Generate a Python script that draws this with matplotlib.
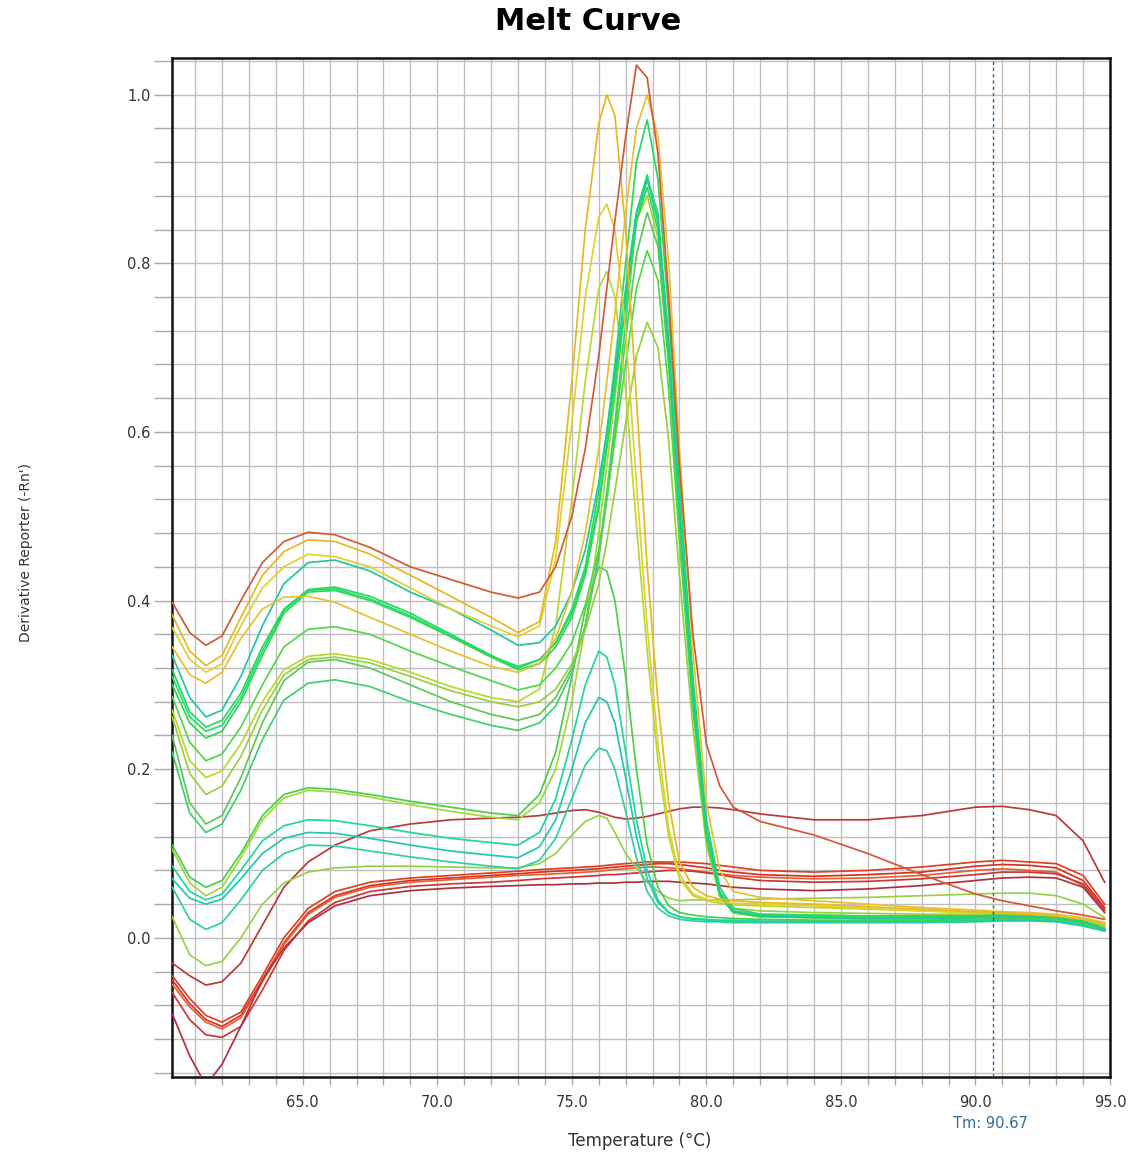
import matplotlib
matplotlib.use("Agg")
import matplotlib.pyplot as plt
from matplotlib.ticker import MultipleLocator, FormatStrFormatter

# ---------------- data ----------------
temps = [60.15, 60.8, 61.4, 62.0, 62.7, 63.5, 64.3, 65.2, 66.2, 67.5, 69.0, 70.5, 72.0, 73.0,
         73.8, 74.4, 75.0, 75.5, 76.0, 76.3, 76.6, 77.0, 77.4, 77.8, 78.2, 78.6, 79.0, 79.5,
         80.0, 80.5, 81.0, 82.0, 84.0, 86.0, 88.0, 90.0, 91.0, 92.0, 93.0, 94.0, 94.8]

# red group (low curves)
r1 = [-0.03, -0.045, -0.056, -0.052, -0.03, 0.015, 0.06, 0.09, 0.11, 0.127, 0.135, 0.14, 0.142, 0.143,
      0.145, 0.148, 0.151, 0.152, 0.149, 0.146, 0.143, 0.141, 0.142, 0.144, 0.147, 0.15, 0.153, 0.155,
      0.155, 0.154, 0.152, 0.147, 0.14, 0.14, 0.145, 0.155, 0.156, 0.152, 0.145, 0.115, 0.066]
r2 = [-0.045, -0.072, -0.092, -0.10, -0.088, -0.045, 0.0, 0.035, 0.055, 0.066, 0.071, 0.074, 0.077, 0.079,
      0.081, 0.082, 0.083, 0.084, 0.085, 0.086, 0.087, 0.088, 0.089, 0.09, 0.09, 0.09, 0.09, 0.089,
      0.088, 0.086, 0.084, 0.08, 0.078, 0.08, 0.084, 0.09, 0.092, 0.09, 0.088, 0.074, 0.04]
r3 = [-0.05, -0.078, -0.097, -0.105, -0.092, -0.05, -0.006, 0.03, 0.05, 0.062, 0.068, 0.071, 0.074, 0.076,
      0.078, 0.079, 0.08, 0.081, 0.082, 0.083, 0.084, 0.085, 0.086, 0.087, 0.088, 0.088, 0.087, 0.085,
      0.083, 0.08, 0.078, 0.075, 0.073, 0.075, 0.078, 0.085, 0.087, 0.086, 0.083, 0.068, 0.036]
r4 = [-0.055, -0.082, -0.10, -0.108, -0.095, -0.052, -0.008, 0.028, 0.048, 0.06, 0.066, 0.069, 0.072, 0.074,
      0.075, 0.076, 0.077, 0.078, 0.079, 0.08, 0.081, 0.082, 0.083, 0.084, 0.084, 0.083, 0.082, 0.08,
      0.078, 0.076, 0.074, 0.072, 0.07, 0.071, 0.074, 0.08, 0.082, 0.08, 0.078, 0.062, 0.032]
r5 = [-0.065, -0.097, -0.115, -0.118, -0.105, -0.062, -0.015, 0.02, 0.042, 0.055, 0.061, 0.064, 0.066, 0.068,
      0.07, 0.071, 0.072, 0.073, 0.074, 0.075, 0.075, 0.076, 0.077, 0.078, 0.079, 0.08, 0.08, 0.079,
      0.077, 0.075, 0.072, 0.068, 0.066, 0.067, 0.07, 0.075, 0.078, 0.078, 0.076, 0.064, 0.034]
r6 = [-0.09, -0.14, -0.175, -0.15, -0.105, -0.05, -0.012, 0.018, 0.038, 0.05, 0.056, 0.059, 0.061, 0.062,
      0.063, 0.063, 0.064, 0.064, 0.065, 0.065, 0.065, 0.066, 0.066, 0.067, 0.067, 0.067, 0.066, 0.065,
      0.064, 0.062, 0.06, 0.058, 0.056, 0.058, 0.062, 0.068, 0.071, 0.072, 0.071, 0.06, 0.03]

# high-baseline group
h1 = [0.398, 0.362, 0.347, 0.358, 0.40, 0.445, 0.47, 0.481, 0.478, 0.463, 0.44, 0.425, 0.41, 0.403,
      0.41, 0.44, 0.50, 0.58, 0.69, 0.77, 0.85, 0.95, 1.035, 1.02, 0.93, 0.76, 0.56, 0.36,
      0.23, 0.18, 0.155, 0.138, 0.122, 0.10, 0.075, 0.052, 0.044, 0.038, 0.032, 0.027, 0.022]
h2 = [0.383, 0.34, 0.323, 0.335, 0.38, 0.43, 0.458, 0.472, 0.47, 0.455, 0.43, 0.405, 0.38, 0.362,
      0.375, 0.47, 0.66, 0.84, 0.965, 1.0, 0.975, 0.84, 0.64, 0.44, 0.28, 0.16, 0.09, 0.06,
      0.05, 0.046, 0.044, 0.042, 0.04, 0.037, 0.034, 0.031, 0.03, 0.028, 0.026, 0.022, 0.017]
h3 = [0.368, 0.33, 0.315, 0.325, 0.37, 0.415, 0.44, 0.455, 0.452, 0.44, 0.415, 0.39, 0.37, 0.357,
      0.37, 0.45, 0.61, 0.76, 0.855, 0.87, 0.84, 0.72, 0.54, 0.37, 0.23, 0.13, 0.075, 0.052,
      0.046, 0.043, 0.041, 0.04, 0.038, 0.035, 0.032, 0.03, 0.029, 0.028, 0.026, 0.022, 0.017]
h4 = [0.345, 0.312, 0.302, 0.315, 0.355, 0.39, 0.404, 0.405, 0.398, 0.38, 0.36, 0.34, 0.322, 0.315,
      0.325, 0.355, 0.41, 0.48, 0.58, 0.66, 0.74, 0.86, 0.96, 1.0, 0.95, 0.80, 0.58, 0.34,
      0.16, 0.08, 0.055, 0.048, 0.044, 0.04, 0.036, 0.033, 0.031, 0.03, 0.028, 0.024, 0.018]
t1 = [0.335, 0.285, 0.262, 0.27, 0.31, 0.37, 0.42, 0.445, 0.448, 0.435, 0.41, 0.39, 0.365, 0.347,
      0.35, 0.37, 0.41, 0.46, 0.54, 0.60, 0.67, 0.77, 0.86, 0.90, 0.85, 0.70, 0.51, 0.29,
      0.13, 0.055, 0.032, 0.026, 0.024, 0.023, 0.023, 0.024, 0.025, 0.025, 0.024, 0.019, 0.01]
g1 = [0.318, 0.268, 0.25, 0.258, 0.29, 0.345, 0.39, 0.413, 0.416, 0.405, 0.385, 0.36, 0.335, 0.32,
      0.33, 0.35, 0.39, 0.44, 0.53, 0.60, 0.68, 0.80, 0.92, 0.97, 0.90, 0.74, 0.54, 0.31,
      0.14, 0.06, 0.035, 0.028, 0.027, 0.026, 0.026, 0.026, 0.027, 0.027, 0.026, 0.02, 0.011]
g2 = [0.30, 0.255, 0.237, 0.245, 0.28, 0.335, 0.385, 0.41, 0.412, 0.40, 0.38, 0.357, 0.333, 0.318,
      0.325, 0.345, 0.38, 0.43, 0.51, 0.58, 0.65, 0.75, 0.85, 0.89, 0.84, 0.69, 0.50, 0.28,
      0.12, 0.05, 0.03, 0.026, 0.025, 0.024, 0.024, 0.025, 0.026, 0.026, 0.025, 0.019, 0.01]
g6 = [0.31, 0.262, 0.245, 0.252, 0.285, 0.34, 0.388, 0.412, 0.414, 0.402, 0.382, 0.358, 0.334, 0.322,
      0.33, 0.35, 0.385, 0.435, 0.515, 0.585, 0.66, 0.76, 0.86, 0.905, 0.85, 0.70, 0.51, 0.29,
      0.125, 0.052, 0.031, 0.026, 0.025, 0.024, 0.024, 0.025, 0.026, 0.026, 0.025, 0.019, 0.01]
g3 = [0.286, 0.232, 0.21, 0.218, 0.25, 0.30, 0.345, 0.366, 0.369, 0.36, 0.34, 0.322, 0.305, 0.294,
      0.30, 0.32, 0.35, 0.395, 0.46, 0.52, 0.59, 0.68, 0.77, 0.815, 0.78, 0.65, 0.47, 0.27,
      0.12, 0.05, 0.03, 0.025, 0.024, 0.023, 0.023, 0.024, 0.025, 0.025, 0.024, 0.018, 0.01]
y1 = [0.27, 0.21, 0.19, 0.198, 0.23, 0.28, 0.318, 0.334, 0.337, 0.33, 0.315, 0.298, 0.285, 0.28,
      0.295, 0.37, 0.52, 0.66, 0.77, 0.79, 0.76, 0.65, 0.49, 0.34, 0.21, 0.12, 0.07, 0.05,
      0.044, 0.041, 0.039, 0.038, 0.036, 0.034, 0.032, 0.03, 0.029, 0.028, 0.026, 0.021, 0.016]
y2 = [0.262, 0.195, 0.17, 0.18, 0.215, 0.27, 0.312, 0.33, 0.333, 0.326, 0.31, 0.293, 0.28, 0.274,
      0.28, 0.295, 0.325, 0.365, 0.42, 0.47, 0.53, 0.61, 0.69, 0.73, 0.70, 0.59, 0.43, 0.25,
      0.11, 0.05, 0.035, 0.032, 0.03, 0.029, 0.028, 0.028, 0.028, 0.027, 0.025, 0.02, 0.014]
g4 = [0.24, 0.16, 0.135, 0.145, 0.19, 0.255, 0.305, 0.327, 0.33, 0.32, 0.30, 0.28, 0.265, 0.258,
      0.265, 0.285, 0.32, 0.37, 0.45, 0.52, 0.60, 0.71, 0.81, 0.86, 0.82, 0.68, 0.49, 0.28,
      0.12, 0.05, 0.03, 0.025, 0.024, 0.023, 0.023, 0.024, 0.025, 0.025, 0.024, 0.018, 0.01]
g5 = [0.22, 0.148, 0.125, 0.135, 0.175, 0.235, 0.282, 0.302, 0.306, 0.298, 0.28, 0.265, 0.252, 0.246,
      0.255, 0.275, 0.315, 0.37, 0.455, 0.53, 0.61, 0.73, 0.85, 0.90, 0.86, 0.71, 0.51, 0.29,
      0.125, 0.052, 0.031, 0.026, 0.025, 0.024, 0.024, 0.025, 0.026, 0.026, 0.025, 0.019, 0.01]

# low-baseline group
l1 = [0.11, 0.072, 0.06, 0.068, 0.10, 0.145, 0.17, 0.178, 0.176, 0.17, 0.162, 0.155, 0.148, 0.145,
      0.17, 0.22, 0.31, 0.39, 0.44, 0.435, 0.40, 0.31, 0.20, 0.11, 0.06, 0.038, 0.03, 0.027,
      0.025, 0.024, 0.023, 0.022, 0.021, 0.021, 0.021, 0.022, 0.023, 0.023, 0.022, 0.017, 0.009]
l2 = [0.105, 0.065, 0.05, 0.06, 0.095, 0.14, 0.166, 0.175, 0.173, 0.167, 0.158, 0.15, 0.143, 0.14,
      0.16, 0.20, 0.28, 0.37, 0.48, 0.56, 0.64, 0.76, 0.85, 0.88, 0.83, 0.68, 0.49, 0.28,
      0.12, 0.05, 0.032, 0.028, 0.027, 0.026, 0.026, 0.026, 0.027, 0.027, 0.026, 0.02, 0.012]
l3 = [0.085, 0.055, 0.045, 0.052, 0.08, 0.115, 0.133, 0.14, 0.139, 0.133, 0.125, 0.118, 0.113, 0.11,
      0.125, 0.165, 0.235, 0.30, 0.34, 0.333, 0.30, 0.22, 0.14, 0.08, 0.045, 0.03, 0.025, 0.023,
      0.022, 0.021, 0.021, 0.02, 0.02, 0.02, 0.02, 0.021, 0.022, 0.022, 0.021, 0.016, 0.009]
l4 = [0.07, 0.047, 0.04, 0.046, 0.07, 0.10, 0.118, 0.125, 0.124, 0.118, 0.11, 0.103, 0.098, 0.095,
      0.108, 0.14, 0.20, 0.255, 0.285, 0.28, 0.255, 0.19, 0.12, 0.07, 0.042, 0.03, 0.025, 0.022,
      0.021, 0.02, 0.02, 0.019, 0.019, 0.019, 0.019, 0.02, 0.021, 0.021, 0.02, 0.015, 0.008]
l5 = [0.06, 0.022, 0.01, 0.018, 0.045, 0.08, 0.10, 0.11, 0.109, 0.103, 0.096, 0.09, 0.085, 0.082,
      0.092, 0.118, 0.165, 0.205, 0.225, 0.222, 0.20, 0.15, 0.095, 0.055, 0.035, 0.026, 0.022, 0.02,
      0.019, 0.019, 0.018, 0.018, 0.018, 0.018, 0.018, 0.019, 0.02, 0.02, 0.019, 0.014, 0.008]
l6 = [0.025, -0.02, -0.033, -0.028, 0.0, 0.04, 0.065, 0.078, 0.083, 0.085, 0.085, 0.084, 0.083, 0.083,
      0.088, 0.10, 0.122, 0.138, 0.145, 0.142, 0.125, 0.10, 0.083, 0.066, 0.055, 0.047, 0.044, 0.045,
      0.045, 0.045, 0.045, 0.046, 0.047, 0.048, 0.05, 0.052, 0.053, 0.053, 0.05, 0.04, 0.024]

curves = [r1, r2, r3, r4, r5, r6,
          l6, l5, l4, l3, l1, l2,
          g5, g4, y2, y1, g3, g6, g2, g1, t1, h4, h3, h2, h1]
colors = ["#b83a3a", "#e04020", "#d83028", "#e86030", "#c83838", "#b03040",
          "#98d048", "#30d0a0", "#20c8b0", "#20d898", "#48d048", "#a0d838",
          "#40d070", "#60c858", "#98d040", "#b8d830", "#50d848", "#20e070", "#30d850", "#28d860",
          "#20c8a0", "#e8c030", "#e0d030", "#e8b820", "#d4583a"]

tm_value = 90.67
x_major = [65.0, 70.0, 75.0, 80.0, 85.0, 90.0, 95.0]
y_major = [0.0, 0.2, 0.4, 0.6, 0.8, 1.0]

# ---------------- figure ----------------
W, H = 1129, 1156
fig = plt.figure(figsize=(W / 100, H / 100), dpi=100)
ax = fig.add_axes([171.7 / W, 1 - 1077 / H, (1110 - 171.7) / W, (1077 - 57.5) / H])

for ys, c in zip(curves, colors):
    ax.plot(temps, ys, color=c, lw=1.25, solid_joinstyle="round", zorder=3)

ax.axvline(tm_value, color="#2f6a9a", lw=1.0, ls=(0, (2.5, 2)), zorder=4)

ax.set_xlim(60.13, 95.0)
ax.set_ylim(-0.165, 1.044)

ax.set_xticks(x_major)
ax.xaxis.set_minor_locator(MultipleLocator(1.0))
ax.set_yticks(y_major)
ax.yaxis.set_minor_locator(MultipleLocator(0.04))
ax.xaxis.set_major_formatter(FormatStrFormatter("%.1f"))
ax.yaxis.set_major_formatter(FormatStrFormatter("%.1f"))

ax.grid(which="both", color="#bfbfbf", lw=1.0, zorder=0)
ax.set_axisbelow(True)

ax.tick_params(axis="x", which="both", direction="out", length=6, width=1.0,
               color="#a8a8a8", pad=7, labelsize=10.5, labelcolor="#333333")
ax.tick_params(axis="y", which="both", direction="out", length=13, width=1.0,
               color="#a8a8a8", pad=2, labelsize=10.5, labelcolor="#333333")
for lab in ax.get_xticklabels() + ax.get_yticklabels():
    lab.set_family("DejaVu Sans")

for s in ax.spines.values():
    s.set_color("#111111")
    s.set_linewidth(1.8)

fig.text(588.5 / W, 1 - 21 / H, "Melt Curve", ha="center", va="center",
         fontsize=22, fontweight="bold", family="DejaVu Sans", color="#000000")
fig.text(26 / W, 1 - 553 / H, "Derivative Reporter (-Rn')", ha="center", va="center",
         rotation=90, fontsize=10, family="DejaVu Sans", color="#333333")
fig.text(640 / W, 1 - 1141 / H, "Temperature (°C)", ha="center", va="center",
         fontsize=12, family="DejaVu Sans", color="#333333")
fig.text(990 / W, 1 - 1124 / H, "Tm: %.2f" % tm_value, ha="center", va="center",
         fontsize=10.5, family="DejaVu Sans", color="#2f6fa0")

fig.savefig("out.png", dpi=100)
